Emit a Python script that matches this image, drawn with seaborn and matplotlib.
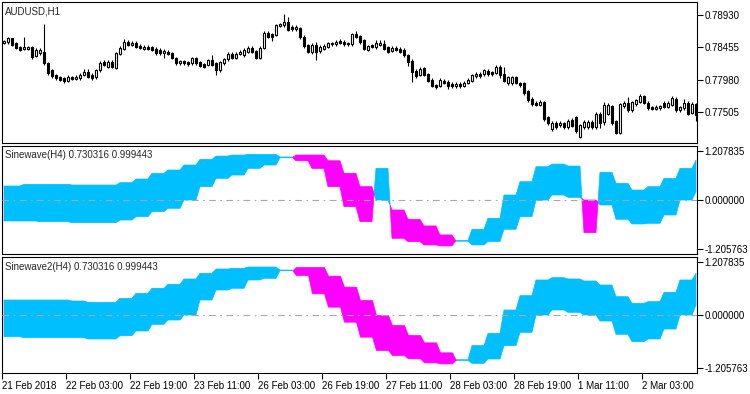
import numpy as np
import matplotlib
matplotlib.use("Agg")
import matplotlib.pyplot as plt
import seaborn as sns

# AUDUSD H1 candles, 21 Feb 11:00 -> 2 Mar
opens = [.7852, .7853, .7859, .7852, .7846, .7843, .7843, .7846, .7833, .7837,
         .7839, .7822, .7812, .7805, .7802, .7800, .7796, .7802, .7799, .7800,
         .7805, .7809, .7805, .7802, .7812, .7824, .7817, .7824, .7815, .7836,
         .7843, .7853, .7849, .7852, .7847, .7843, .7846, .7846, .7843, .7842,
         .7837, .7839, .7837, .7830, .7822, .7825, .7824, .7822, .7830, .7824,
         .7821, .7820, .7827, .7822, .7812, .7822, .7828, .7836, .7830, .7836,
         .7834, .7839, .7845, .7840, .7830, .7845, .7867, .7865, .7864, .7877,
         .7878, .7883, .7875, .7872, .7874, .7861, .7849, .7839, .7849, .7840,
         .7843, .7846, .7850, .7850, .7855, .7853, .7852, .7850, .7865, .7862,
         .7856, .7842, .7849, .7846, .7849, .7850, .7846, .7840, .7845, .7843,
         .7842, .7834, .7825, .7811, .7805, .7815, .7806, .7798, .7790, .7789,
         .7796, .7795, .7792, .7789, .7792, .7789, .7793, .7796, .7803, .7806,
         .7806, .7811, .7809, .7808, .7817, .7806, .7793, .7793, .7802, .7793,
         .7793, .7781, .7770, .7764, .7761, .7765, .7743, .7726, .7734, .7731,
         .7734, .7728, .7739, .7743, .7714, .7728, .7728, .7736, .7728, .7748,
         .7736, .7748, .7759, .7737, .7720, .7759, .7764, .7753, .7762, .7765,
         .7774, .7764, .7758, .7755, .7756, .7764, .7758, .7761, .7770, .7753,
         .7756, .7764, .7749, .7762]
closes = [.7855, .7859, .7849, .7845, .7842, .7846, .7846, .7831, .7842, .7842,
          .7822, .7808, .7803, .7800, .7798, .7796, .7802, .7799, .7802, .7805,
          .7809, .7802, .7800, .7812, .7822, .7820, .7824, .7817, .7837, .7845,
          .7853, .7849, .7852, .7846, .7845, .7846, .7843, .7842, .7837, .7837,
          .7840, .7836, .7830, .7822, .7825, .7822, .7821, .7830, .7822, .7818,
          .7817, .7827, .7820, .7812, .7824, .7828, .7836, .7830, .7836, .7839,
          .7842, .7845, .7839, .7830, .7845, .7867, .7861, .7861, .7878, .7880,
          .7883, .7871, .7872, .7875, .7861, .7847, .7839, .7849, .7839, .7846,
          .7847, .7852, .7852, .7853, .7852, .7850, .7850, .7865, .7861, .7853,
          .7843, .7847, .7846, .7852, .7852, .7843, .7839, .7845, .7842, .7839,
          .7834, .7824, .7809, .7803, .7814, .7805, .7796, .7789, .7787, .7798,
          .7793, .7789, .7789, .7792, .7789, .7793, .7798, .7805, .7806, .7803,
          .7812, .7806, .7806, .7817, .7805, .7796, .7802, .7802, .7793, .7790,
          .7778, .7768, .7762, .7761, .7765, .7740, .7734, .7734, .7728, .7734,
          .7728, .7737, .7730, .7723, .7731, .7736, .7736, .7728, .7748, .7734,
          .7761, .7761, .7734, .7720, .7762, .7764, .7753, .7765, .7768, .7774,
          .7764, .7756, .7755, .7758, .7759, .7758, .7764, .7771, .7753, .7758,
          .7764, .7748, .7762, .7746]
highs = [.7857, .7861, .7860, .7854, .7848, .7861, .7848, .7848, .7845, .7844,
         .7880, .7824, .7814, .7807, .7804, .7802, .7805, .7804, .7805, .7808,
         .7814, .7814, .7808, .7814, .7825, .7827, .7827, .7827, .7839, .7848,
         .7858, .7856, .7855, .7855, .7850, .7849, .7849, .7848, .7846, .7845,
         .7843, .7841, .7839, .7832, .7827, .7827, .7826, .7832, .7832, .7826,
         .7823, .7829, .7834, .7824, .7826, .7830, .7838, .7838, .7838, .7842,
         .7844, .7847, .7848, .7842, .7847, .7869, .7870, .7867, .7880, .7882,
         .7894, .7890, .7878, .7878, .7876, .7863, .7851, .7852, .7853, .7849,
         .7850, .7854, .7854, .7856, .7858, .7856, .7854, .7867, .7869, .7864,
         .7858, .7849, .7851, .7856, .7856, .7856, .7848, .7848, .7848, .7846,
         .7844, .7836, .7828, .7813, .7817, .7817, .7808, .7800, .7792, .7800,
         .7799, .7797, .7795, .7795, .7795, .7796, .7800, .7807, .7809, .7809,
         .7814, .7814, .7811, .7820, .7819, .7817, .7804, .7804, .7804, .7795,
         .7795, .7783, .7772, .7766, .7768, .7767, .7745, .7737, .7737, .7737,
         .7736, .7740, .7742, .7745, .7733, .7739, .7739, .7739, .7750, .7750,
         .7765, .7763, .7761, .7739, .7764, .7766, .7772, .7767, .7770, .7777,
         .7776, .7766, .7760, .7761, .7761, .7766, .7766, .7774, .7772, .7760,
         .7770, .7766, .7765, .7764]
lows = [.7850, .7851, .7847, .7843, .7840, .7842, .7841, .7829, .7831, .7834,
        .7819, .7805, .7801, .7798, .7796, .7793, .7794, .7797, .7797, .7798,
        .7803, .7800, .7797, .7799, .7810, .7818, .7815, .7815, .7814, .7834,
        .7842, .7847, .7847, .7845, .7843, .7842, .7841, .7840, .7835, .7835,
        .7830, .7834, .7828, .7820, .7820, .7820, .7818, .7820, .7820, .7816,
        .7815, .7818, .7818, .7805, .7810, .7820, .7826, .7828, .7828, .7834,
        .7832, .7837, .7837, .7828, .7828, .7843, .7859, .7855, .7862, .7875,
        .7876, .7869, .7869, .7870, .7858, .7845, .7837, .7836, .7827, .7837,
        .7841, .7844, .7848, .7848, .7850, .7848, .7848, .7848, .7859, .7850,
        .7841, .7840, .7844, .7843, .7847, .7841, .7837, .7838, .7840, .7837,
        .7832, .7818, .7795, .7800, .7803, .7803, .7794, .7787, .7784, .7787,
        .7791, .7785, .7786, .7786, .7786, .7787, .7791, .7794, .7801, .7800,
        .7803, .7804, .7804, .7806, .7800, .7794, .7790, .7790, .7791, .7787,
        .7775, .7765, .7760, .7759, .7759, .7737, .7731, .7723, .7726, .7729,
        .7726, .7726, .7728, .7720, .7712, .7726, .7726, .7726, .7726, .7727,
        .7731, .7746, .7731, .7718, .7718, .7757, .7751, .7751, .7760, .7763,
        .7762, .7754, .7753, .7753, .7754, .7756, .7756, .7759, .7751, .7751,
        .7754, .7746, .7747, .7737]

# H4 values (one per H4 block), line1 > line2 -> blue, else magenta
sw_line1 = [0.345, 0.345, 0.386, 0.386, 0.386, 0.369, 0.369, 0.369, 0.427, 0.517,
            0.657, 0.739, 0.862, 1.000, 1.082, 1.107, 1.123, 1.123, 1.060, 0.967,
            0.779, 0.328, -0.164, -0.533, 0.779, -0.943, -1.025, -1.107, -1.131, -1.000,
            -0.721, -0.451, 0.123, 0.451, 0.820, 0.885, 0.836, -0.803, 0.680, 0.410,
            0.246, 0.328, 0.533, 0.779, 0.984]
sw_line2 = [-0.517, -0.517, -0.517, -0.534, -0.534, -0.558, -0.558, -0.558, -0.493, -0.411,
            -0.287, -0.205, 0.000, 0.328, 0.533, 0.615, 0.779, 0.861, 1.040, 1.107,
            1.107, 0.967, 0.656, 0.328, 0.000, -0.246, -0.475, -0.639, -0.861, -1.015,
            -1.107, -1.025, -0.721, -0.410, 0.000, 0.123, 0.066, 0.000, -0.123, -0.475,
            -0.590, -0.574, -0.369, 0.000, 0.205]
sw2_line1 = [0.344, 0.344, 0.344, 0.344, 0.344, 0.321, 0.291, 0.291, 0.382, 0.497,
             0.612, 0.703, 0.826, 0.956, 1.055, 1.070, 1.101, 1.101, 1.030, 0.917,
             0.497, 0.191, -0.153, -0.497, -0.803, -0.917, -0.994, -1.086, -1.109, -1.025,
             -0.703, -0.420, 0.115, 0.443, 0.803, 0.856, 0.826, 0.780, 0.688, 0.420,
             0.268, 0.306, 0.520, 0.803, 0.956]
sw2_line2 = [-0.497, -0.497, -0.520, -0.520, -0.520, -0.520, -0.550, -0.550, -0.474, -0.367,
             -0.214, -0.115, 0.000, 0.344, 0.573, 0.612, 0.803, 0.841, 1.018, 1.101,
             1.101, 0.902, 0.650, 0.344, 0.000, -0.229, -0.459, -0.627, -0.856, -1.040,
             -1.109, -1.009, -0.703, -0.398, 0.000, 0.115, 0.061, 0.000, -0.138, -0.443,
             -0.612, -0.550, -0.321, 0.000, 0.229]
h1_per_block = [1] + [4] * 43 + [1]

price_ticks = [0.78930, 0.78455, 0.77980, 0.77505]
ind_ticks = [1.207835, 0.0, -1.205763]
ind_labels = ["1.207835", "0.000000", "-1.205763"]
date_labels = ["21 Feb 2018", "22 Feb 03:00", "22 Feb 19:00", "23 Feb 11:00",
               "26 Feb 03:00", "26 Feb 19:00", "27 Feb 11:00", "28 Feb 03:00",
               "28 Feb 19:00", "1 Mar 11:00", "2 Mar 03:00"]

sns.set_theme(style="white")
plt.rcParams['font.family'] = ['Liberation Sans', 'DejaVu Sans']

W, H = 750, 394
fig = plt.figure(figsize=(W / 100, H / 100), dpi=100)


def box(x0, y0, x1, y1):
    return [x0 / W, 1 - y1 / H, (x1 - x0) / W, (y1 - y0) / H]


ax1 = fig.add_axes(box(2, 2, 697, 143))
ax2 = fig.add_axes(box(2, 146, 697, 254))
ax3 = fig.add_axes(box(2, 257, 697, 373))

bars = np.arange(len(closes))
o = np.array(opens)
c = np.array(closes)
up = c >= o

# candles
ax1.vlines(bars, lows, highs, color="black", lw=0.8, zorder=1)
ax1.bar(bars, np.abs(c - o), bottom=np.minimum(o, c), width=0.5,
        color=np.where(up, "white", "black"), edgecolor="black",
        linewidth=0.8, zorder=2)
ax1.set_ylim(0.77049, 0.79122)
ax1.set_yticks(price_ticks)
ax1.set_yticklabels(["%.5f" % v for v in price_ticks])


def band(ax, l1, l2):
    a = np.repeat(l1, h1_per_block)
    b = np.repeat(l2, h1_per_block)
    ax.fill_between(bars, a, b, where=a >= b, interpolate=True,
                    facecolor="#00BFFF", edgecolor="#00BFFF", lw=0.5, zorder=1)
    ax.fill_between(bars, a, b, where=a < b, interpolate=True,
                    facecolor="#FF00FF", edgecolor="#FF00FF", lw=0.5, zorder=1)
    ax.axhline(0, color="#a8a8a8", lw=0.8, dashes=(6, 4, 1.5, 4), zorder=3)
    ax.set_ylim(-1.33, 1.33)
    ax.set_yticks(ind_ticks)
    ax.set_yticklabels(ind_labels)


band(ax2, sw_line1, sw_line2)
band(ax3, sw2_line1, sw2_line2)

for ax in (ax1, ax2, ax3):
    ax.set_xlim(-0.5, 173.25)
    ax.set_facecolor("white")
    for s in ax.spines.values():
        s.set_color("black")
        s.set_linewidth(0.8)
    ax.yaxis.tick_right()
    ax.tick_params(axis="y", right=True, left=False, direction="out",
                   length=4, width=0.8, pad=1.5, labelsize=7, colors="black")
    ax.set_xlabel("")
    ax.set_ylabel("")

for ax in (ax1, ax2):
    ax.tick_params(axis="x", bottom=False, labelbottom=False)

ax3.set_xticks([16 * i - 0.5 for i in range(len(date_labels))])
ax3.set_xticklabels(date_labels)
ax3.tick_params(axis="x", bottom=True, direction="out", length=4, width=0.8,
                pad=1.5, labelsize=7, colors="black")
for lab in ax3.get_xticklabels():
    lab.set_horizontalalignment("left")

fig.text(5 / W, 1 - 12 / H, "AUDUSD,H1", fontsize=7, va="center", ha="left")
fig.text(5 / W, 1 - 155 / H, "Sinewave(H4) 0.730316 0.999443", fontsize=7,
         va="center", ha="left")
fig.text(5 / W, 1 - 267 / H, "Sinewave2(H4) 0.730316 0.999443", fontsize=7,
         va="center", ha="left")

fig.savefig("out.png", dpi=100, facecolor="white")
